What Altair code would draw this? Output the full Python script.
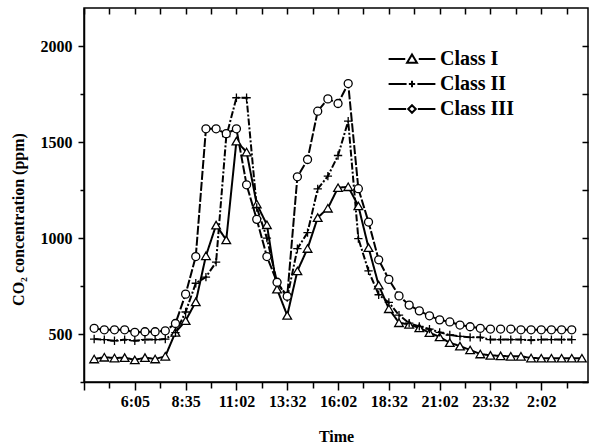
import altair as alt
import pandas as pd

series_names = ["Class I", "Class II", "Class III"]

class1 = [370, 379, 375, 377, 365, 377, 370, 384, 509, 570, 668, 908, 1068, 991,
          1506, 1449, 1178, 1070, 734, 597, 829, 946, 1107, 1156, 1263, 1268, 1168,
          951, 755, 632, 559, 550, 532, 507, 485, 455, 437, 417, 396, 389, 386, 384,
          384, 375, 374, 374, 374, 374, 374]
class2 = [474, 471, 465, 471, 465, 471, 471, 474, 507, 615, 765, 797, 875, 1530,
          1732, 1732, 1160, 1000, 770, 690, 945, 1029, 1257, 1323, 1431, 1610, 998,
          829, 705, 665, 599, 557, 540, 526, 509, 495, 488, 483, 483, 471, 471, 471,
          471, 468, 471, 471, 471, 471]
class3 = [530, 522, 522, 522, 509, 512, 512, 517, 555, 708, 904, 1570, 1570, 1545,
          1570, 1278, 1098, 904, 770, 697, 1320, 1410, 1662, 1726, 1702, 1806, 1258,
          1084, 887, 785, 699, 651, 621, 595, 574, 563, 547, 538, 530, 526, 526, 526,
          522, 522, 522, 522, 522, 522]

tick_index = [4, 9, 14, 19, 24, 29, 34, 39, 44]
tick_labels = ["6:05", "8:35", "11:02", "13:32", "16:02", "18:32", "21:02", "23:32", "2:02"]
y_label_values = [500, 1000, 1500, 2000]

rows = []
for name, vals in zip(series_names, [class1, class2, class3]):
    for i, v in enumerate(vals):
        rows.append({"series": name, "idx": i, "value": v})
df = pd.DataFrame(rows)

FONT = "Liberation Serif"

x_major = [-1] + tick_index
x_minor = [v + 2.5 for v in x_major]
x_vals = sorted(x_major + x_minor)
y_vals = [250, 500, 750, 1000, 1250, 1500, 1750, 2000]

x_label_expr = " : ".join(
    f"datum.value == {i} ? '{lab}'" for i, lab in zip(tick_index, tick_labels)
) + " : ''"
y_label_expr = " : ".join(
    f"datum.value == {v} ? '{v}'" for v in y_label_values
) + " : ''"

x_scale = alt.Scale(domain=[-1, 48.6], nice=False, zero=False)
y_scale = alt.Scale(domain=[250, 2200], nice=False, zero=False)

base = alt.Chart(df)

lines = base.mark_line(color="black", strokeWidth=2).encode(
    x=alt.X("idx:Q", scale=x_scale, axis=alt.Axis(
        orient="bottom", values=x_vals, labelExpr=x_label_expr,
        tickSize={"condition": {"test": "(datum.value + 1) % 5 == 0", "value": 8}, "value": 6},
        tickColor="black", tickWidth=1.5, domainColor="black", domainWidth=1.5,
        labelFont=FONT, labelFontSize=16, labelFontWeight="bold", labelColor="black",
        labelPadding=3, grid=False, title="Time", titleFont=FONT, titleFontSize=16,
        titleFontWeight="bold", titleColor="black", titleY=54, titleBaseline="middle",
        labelFlush=False, labelOverlap=False)),
    y=alt.Y("value:Q", scale=y_scale, axis=alt.Axis(
        orient="left", values=y_vals, labelExpr=y_label_expr,
        tickSize={"condition": {"test": "datum.value % 500 == 0", "value": 6}, "value": 4},
        tickColor="black", tickWidth=1.5, domainColor="black", domainWidth=1.5,
        labelFont=FONT, labelFontSize=16, labelFontWeight="bold", labelColor="black",
        labelPadding=6, grid=False, title="CO₂ concentration (ppm)", titleFont=FONT,
        titleFontSize=16, titleFontWeight="bold", titleColor="black",
        titleX=-66, titleY=211, titleAngle=270, titleAlign="center",
        titleBaseline="middle", labelFlush=False, labelOverlap=False)),
    strokeDash=alt.StrokeDash("series:N", scale=alt.Scale(
        domain=series_names, range=[[1, 0], [7, 2, 2, 2], [9, 2]]), legend=None),
    detail="series:N",
)

points = base.mark_point(filled=True, fill="white", stroke="black",
                         strokeWidth=1.3, opacity=1).encode(
    x=alt.X("idx:Q", scale=x_scale, axis=alt.Axis(
        orient="top", values=x_vals, labels=False, domain=False, title=None,
        tickSize=6, offset=-6, tickColor="black", tickWidth=1.5, grid=False)),
    y=alt.Y("value:Q", scale=y_scale, axis=alt.Axis(
        orient="right", values=y_vals, labels=False, domain=False, title=None,
        tickSize=6, offset=-6, tickColor="black", tickWidth=1.5, grid=False)),
    shape=alt.Shape("series:N", scale=alt.Scale(
        domain=series_names,
        range=["triangle-up", "M-1,0L1,0M0,-1L0,1", "circle"]), legend=None),
    size=alt.Size("series:N", scale=alt.Scale(
        domain=series_names, range=[75, 64, 55]), legend=None),
)

legend_paths = [
    "M-2.6,0L-0.75,0M0.75,0L2.6,0M0,-0.5L0.55,0.42L-0.55,0.42Z",
    "M-2.6,0L-0.6,0M0.6,0L2.6,0M-0.35,0L0.35,0M0,-0.35L0,0.35",
    "M-2.6,0L-0.65,0M0.65,0L2.6,0M0,-0.42L0.42,0L0,0.42L-0.42,0Z",
]

legend_layer = base.transform_filter("false").mark_point(
    filled=False, stroke="black", strokeWidth=2, size=324, opacity=1
).encode(
    x=alt.X("idx:Q", scale=x_scale, axis=None),
    y=alt.Y("value:Q", scale=y_scale, axis=None),
    shape=alt.Shape("series:N", scale=alt.Scale(domain=series_names, range=legend_paths),
                    legend=alt.Legend(
                        title=None, orient="none", legendX=318, legendY=41,
                        padding=0, labelFont=FONT, labelFontSize=20,
                        labelFontWeight="bold", labelColor="black",
                        labelOffset=18, rowPadding=5, symbolSize=324,
                        symbolStrokeWidth=2, symbolStrokeColor="black",
                        symbolFillColor="transparent")),
)

chart = alt.layer(lines, points, legend_layer).resolve_scale(
    shape="independent", size="independent"
).resolve_axis(x="independent", y="independent").properties(
    width=504, height=374,
    autosize=alt.AutoSizeParams(type="none"),
    padding={"left": 84, "top": 8, "right": 2, "bottom": 61},
    background="white",
).configure_view(stroke="black", strokeWidth=1.5)

chart.save("out.html", embed_options={"renderer": "svg", "actions": False})
